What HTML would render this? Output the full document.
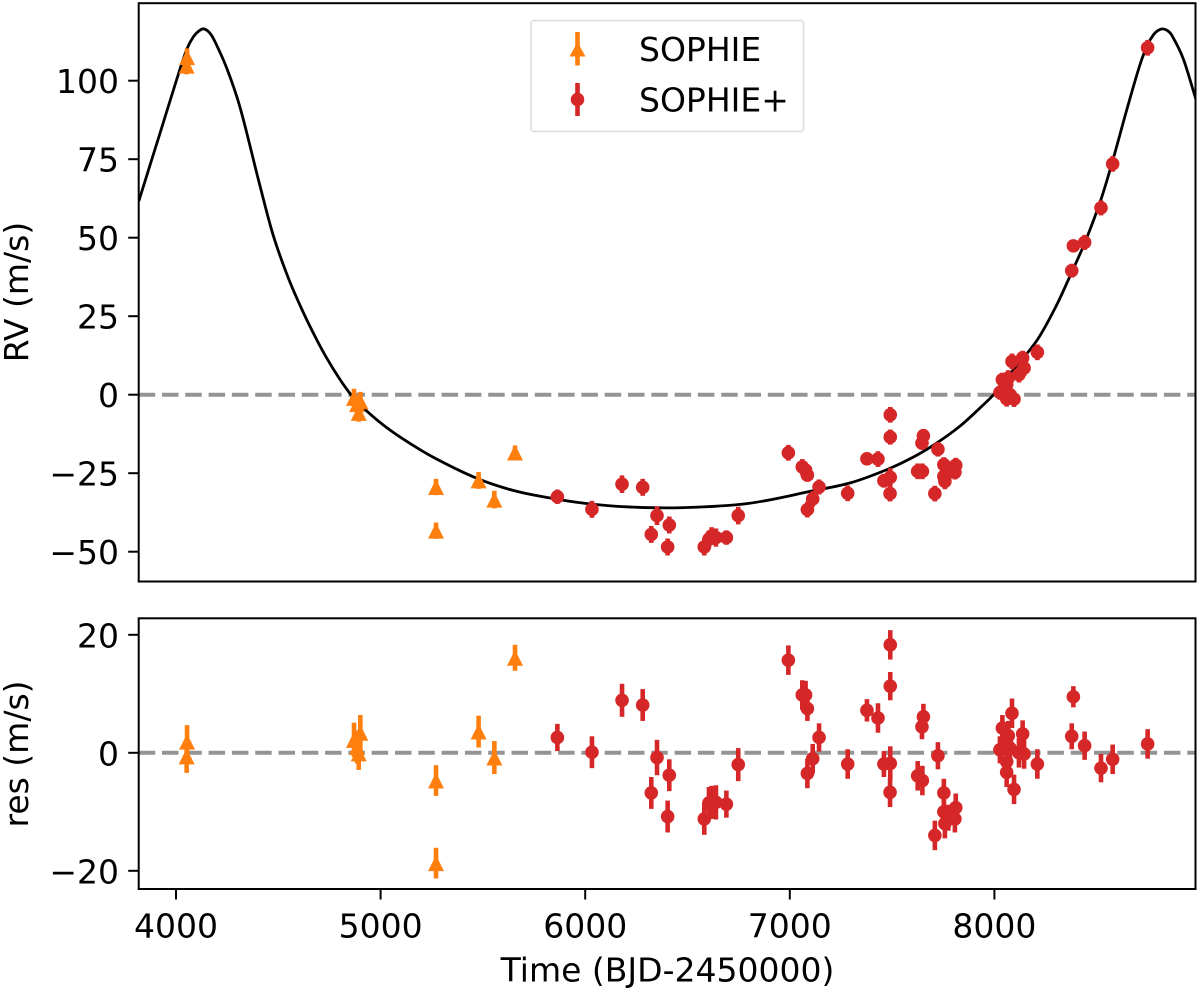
<!DOCTYPE html>
<html lang="en">
<head>
<meta charset="utf-8">
<title>RV chart</title>
<style>
html,body{margin:0;padding:0;background:#fff;width:1200px;height:992px;overflow:hidden}
svg{display:block}
text{font-family:"DejaVu Sans","Liberation Sans",sans-serif;fill:#000}
</style>
</head>
<body>
<svg id="chart" xmlns="http://www.w3.org/2000/svg" width="1200" height="992" viewBox="0 0 1200 992">
  <defs>
    <clipPath id="clip-top"><rect x="138.7" y="3.2" width="1056.8" height="578.3"></rect></clipPath>
    <clipPath id="clip-bot"><rect x="138.7" y="618.3" width="1056.8" height="270.7"></rect></clipPath>
  </defs>
  <g id="top-panel" clip-path="url(#clip-top)"></g>
  <g id="bot-panel" clip-path="url(#clip-bot)"></g>
  <g id="axes"></g>
  <text transform="translate(28,292) rotate(-90)" text-anchor="middle" font-size="33">RV (m/s)</text>
  <text transform="translate(28,754) rotate(-90)" text-anchor="middle" font-size="33">res (m/s)</text>
  <text x="667.5" y="981.5" text-anchor="middle" font-size="33">Time (BJD-2450000)</text>
  <g>
    <rect x="531" y="20.5" width="272.5" height="111" rx="3" fill="#fff" fill-opacity="0.9" stroke="#dcdcdc" stroke-width="1.5"></rect>
    <line x1="577.5" x2="577.5" y1="32" y2="65.5" stroke="#ff7f0e" stroke-width="4.6"></line>
    <polygon points="577.5,42 585.5,56.5 569.5,56.5" fill="#ff7f0e"></polygon>
    <text x="639" y="61" font-size="33">SOPHIE</text>
    <line x1="577.5" x2="577.5" y1="83" y2="116" stroke="#d62728" stroke-width="4.6"></line>
    <circle cx="577.5" cy="99.5" r="6.8" fill="#d62728"></circle>
    <text x="639" y="111.5" font-size="33">SOPHIE+</text>
  </g>
</svg>
<script>
const xTickLabels = [4000, 5000, 6000, 7000, 8000];
const rvTickLabels = [100, 75, 50, 25, 0, -25, -50];
const resTickLabels = [20, 0, -20];

const modelTime = [3818,3870,3922,4003,4052,4085,4115,4137,4165,4190,4248,4313,4407,4474,4550,4620,4680,4738,4800,4855,4900,4960,5030,5100,5200,5271,5400,5500,5600,5700,5864,6000,6200,6463,6800,7114,7300,7473,7600,7718,7832,7930,8003,8100,8210,8300,8378,8443,8520,8578,8646,8711,8749,8777,8800,8822,8845,8866,8923,8985];
const modelRv = [61.6,72.5,83.3,100.3,109.9,114,116,116.5,115.2,112.5,104,91.5,67.4,51,37,26.5,18.5,11.5,5,0,-3.2,-6.8,-10.5,-13.7,-17.8,-20.4,-24.6,-27.4,-29.6,-31.3,-33.3,-34.6,-35.7,-36,-34.6,-30.6,-28,-23.9,-20,-15.4,-10,-4.2,0.5,8.5,17.5,28,39,48.6,62,74.5,90.5,105,111.5,114.6,116,116.5,116,114.6,107,94];

const sophieTime = [4054,4052,4870,4901,4893,4885,5271,5271,5479,5556,5657];
const sophieRv = [107.5,104.8,-1,-2.1,-5.8,-3,-29.4,-43.3,-27.3,-33.4,-18.4];
const sophieRes = [1.9,-0.6,2.2,3.4,-0.1,1,-4.7,-18.7,3.6,-0.8,16.1];
const sophieErr = [2.8,2.8,2.9,3.0,2.8,2.8,2.6,2.6,2.7,2.8,2.2];

const plusTime = [5864,6033,6180,6281,6351,6323,6411,6403,6582,6605,6618,6639,6690,6748,6993,7061,7077,7086,7143,7112,7086,7283,7377,7431,7491,7491,7460,7491,7490,7653,7646,7625,7648,7724,7709,7753,7753,7758,7807,7811,7775,8086,8039,8068,8138,8060,8027,8076,8120,8145,8060,8210,8060,8096,8386,8378,8441,8521,8578,8749];
const plusRv = [-32.5,-36.5,-28.5,-29.5,-38.5,-44.5,-41.5,-48.5,-48.5,-46,-45,-45.5,-45.5,-38.5,-18.5,-23,-24,-25.6,-29.4,-33.2,-36.6,-31.4,-20.4,-20.5,-6.4,-13.5,-27.4,-26.3,-31.5,-13.1,-15.4,-24.4,-24.4,-17.4,-31.5,-22.3,-26,-27.6,-24.7,-22.5,-24.8,10.6,4.8,5.3,11.7,3.2,0.7,0,6.4,8.5,-1,13.5,-1.3,-1.4,47.4,39.5,48.5,59.5,73.5,110.5];
const plusRes = [2.6,0.1,8.9,8.1,-0.8,-6.8,-3.8,-10.8,-11.2,-8.5,-8.4,-8.4,-8.7,-2,15.7,9.8,9.8,7.5,2.6,-1,-3.5,-1.9,7.2,5.9,18.3,11.3,-1.9,-1.8,-6.7,6.1,4.4,-3.9,-4.7,-0.5,-14,-6.8,-10,-12,-11.2,-9.3,-11,6.7,4.2,2.9,3.2,1.6,0.5,0.8,0,-0.2,-1.5,-1.9,-3.3,-6.2,9.5,2.8,1.2,-2.6,-1.1,1.5];
const plusErr = [2.3,2.7,2.8,2.7,3.0,2.7,2.7,2.7,2.7,2.7,2.8,2.9,2.3,2.8,2.5,2.5,2.4,2.1,2.4,2.5,2.5,2.5,1.9,2.5,2.5,2.4,2.2,2.9,2.5,2.2,2.1,2.5,2.5,2.3,2.5,2.4,2.3,2.5,2.3,2.4,2.2,2.5,2.2,2.5,2.3,2.3,2.3,2.3,2.5,2.5,2.3,2.5,2.5,2.5,1.8,2.2,2.4,2.4,2.5,2.5];

const NS = 'http://www.w3.org/2000/svg';
const xScale = t => 176 + (t - 4000) * 0.2046;
const yTop = v => 394.7 - v * 3.14;
const yBot = v => 752.8 - v * 5.9;
const topPanel = document.getElementById('top-panel');
const botPanel = document.getElementById('bot-panel');
const axesGroup = document.getElementById('axes');

function make(tag, attrs, parent) {
  const el = document.createElementNS(NS, tag);
  for (const k in attrs) el.setAttribute(k, attrs[k]);
  parent.appendChild(el);
  return el;
}

function zeroLine(parent, y) {
  const el = make('line', {x1: 138.7, x2: 1196, y1: y, y2: y, stroke: '#949494', 'stroke-width': 4, 'stroke-dasharray': '16.5 6.8'}, parent);
  
  
}

function modelPath() {
  const n = modelTime.length;
  const slope = i => {
    const a = Math.max(0, i - 1), b = Math.min(n - 1, i + 1);
    return (modelRv[b] - modelRv[a]) / (modelTime[b] - modelTime[a]);
  };
  let d = 'M' + xScale(modelTime[0]) + ' ' + yTop(modelRv[0]);
  for (let i = 0; i < n - 1; i++) {
    const dt = (modelTime[i + 1] - modelTime[i]) / 3;
    d += ' C' + xScale(modelTime[i] + dt) + ' ' + yTop(modelRv[i] + slope(i) * dt) + ' ' +
         xScale(modelTime[i + 1] - dt) + ' ' + yTop(modelRv[i + 1] - slope(i + 1) * dt) + ' ' +
         xScale(modelTime[i + 1]) + ' ' + yTop(modelRv[i + 1]);
  }
  return d;
}

function drawErrorbar(parent, x, y0, y1, color) {
  const el = make('line', {x1: x, x2: x, y1: y0, y2: y1, stroke: color, 'stroke-width': 4.6}, parent);
  
  
}

function drawTriangle(parent, x, y) {
  const el = make('polygon', {points: x + ',' + (y - 8) + ' ' + (x + 8) + ',' + (y + 8) + ' ' + (x - 8) + ',' + (y + 8), fill: '#ff7f0e'}, parent);
  
  
}

function drawCircle(parent, x, y) {
  const el = make('circle', {cx: x, cy: y, r: 6.8, fill: '#d62728'}, parent);
  
  
}

zeroLine(topPanel, yTop(0));
zeroLine(botPanel, yBot(0));

const curve = make('path', {d: modelPath(), fill: 'none', stroke: '#000', 'stroke-width': 2.8}, topPanel);



sophieTime.forEach((t, i) => {
  const x = xScale(t);
  drawErrorbar(topPanel, x, yTop(sophieRv[i] + sophieErr[i]), yTop(sophieRv[i] - sophieErr[i]), '#ff7f0e');
  drawTriangle(topPanel, x, yTop(sophieRv[i]));
  drawErrorbar(botPanel, x, yBot(sophieRes[i] + sophieErr[i]), yBot(sophieRes[i] - sophieErr[i]), '#ff7f0e');
  drawTriangle(botPanel, x, yBot(sophieRes[i]));
});
plusTime.forEach((t, i) => {
  const x = xScale(t);
  drawErrorbar(topPanel, x, yTop(plusRv[i] + plusErr[i]), yTop(plusRv[i] - plusErr[i]), '#d62728');
  drawCircle(topPanel, x, yTop(plusRv[i]));
  drawErrorbar(botPanel, x, yBot(plusRes[i] + plusErr[i]), yBot(plusRes[i] - plusErr[i]), '#d62728');
  drawCircle(botPanel, x, yBot(plusRes[i]));
});

function frame(y0, y1, name) {
  const el = make('rect', {x: 138.7, y: y0, width: 1056.8, height: y1 - y0, fill: 'none', stroke: '#000', 'stroke-width': 2}, axesGroup);
  
  
}
frame(3.2, 581.5, 'rv-axes-frame');
frame(618.3, 889, 'res-axes-frame');

function tickMark(x1, y1, x2, y2) {
  const el = make('line', {x1, y1, x2, y2, stroke: '#000', 'stroke-width': 2}, axesGroup);
  
  
}
function tickLabel(x, y, value, anchor) {
  const el = make('text', {x, y, 'text-anchor': anchor, 'font-size': 33}, axesGroup);
  el.textContent = String(value).replace('-', '\u2212');
  
  
}
xTickLabels.forEach(t => {
  const x = xScale(t);
  tickMark(x, 889, x, 899.5);
  tickLabel(x, 937.5, t, 'middle');
});
rvTickLabels.forEach(v => {
  const y = yTop(v);
  tickMark(128.2, y, 138.7, y);
  tickLabel(119, y + 12.5, v, 'end');
});
resTickLabels.forEach(v => {
  const y = yBot(v);
  tickMark(128.2, y, 138.7, y);
  tickLabel(119, y + 12.5, v, 'end');
});
</script>
</body>
</html>
